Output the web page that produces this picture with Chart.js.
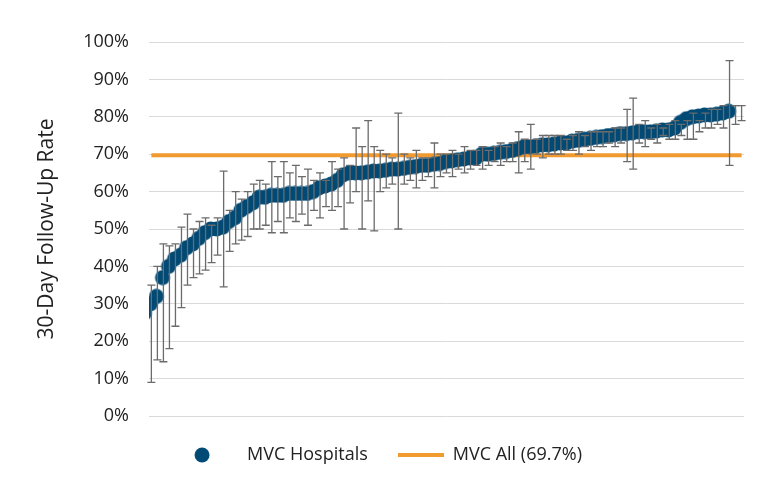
<!DOCTYPE html>
<html>
<head>
<meta charset="utf-8">
<script src="https://cdn.jsdelivr.net/npm/chart.js@4"></script>
<style>
  body { margin: 0; background: #fff; }
  #wrap { width: 768px; height: 488px; }
</style>
</head>
<body>
<div id="wrap"><canvas id="chart"></canvas></div>
<script>
// hospital rates (%), sorted
const rates = [22, 27.5, 30, 32, 37, 40, 42, 43, 45, 46, 47.5, 49, 50, 50, 50.5, 52, 53, 55, 56, 57,
  58.5, 58.5, 59, 59, 59, 59.5, 59.5, 59.5, 59.5, 60, 61, 61.5, 62, 63, 64.5, 65, 65, 65, 65.2, 65.5,
  65.5, 65.7, 66, 66, 66.2, 66.5, 66.7, 67, 67, 67.3, 67.5, 68, 68.2, 68.5, 68.7, 69, 69, 70, 70, 70.2,
  70.5, 70.7, 71, 71.5, 72, 72, 72.2, 72.5, 72.5, 72.7, 73, 73, 73.5, 73.7, 74, 74.2, 74.5, 74.7, 75, 75.2,
  75.5, 75.5, 75.7, 76, 76, 76, 76.2, 76.5, 76.5, 77, 78.5, 79.5, 80, 80.2, 80.5, 80.5, 80.7, 81, 81.5];
// error bar lower / upper bounds (%)
const errLow = [9, 15, 14.5, 18, 24, 29, 35, 37, 38, 39, 41, 43, 34.5, 44, 46, 47, 48, 50, 50, 51,
  49, 52, 49, 53, 52, 54, 51, 55, 53, 56, 55, 56, 50, 57, 60, 50, 57.5, 49.5, 60, 61,
  62, 50, 62, 63, 61, 63, 64, 61, 64, 65, 64, 66, 65, 66, 67, 66, 67, 68, 67, 68,
  68, 65, 68, 66, 70, 69, 70, 70, 70, 71, 71, 70, 72, 71, 72, 72, 73, 72, 73, 68,
  66, 73, 72, 74, 73, 75, 74, 74, 75, 74, 74, 76, 77, 77, 78, 77, 67, 78, 79, 76];
const errHigh = [35, 40, 46, 45.5, 46, 50.5, 54, 50, 52, 53, 51, 53, 65.5, 55, 60, 58, 60, 62, 63, 62,
  68, 64, 68, 65, 67, 64, 66, 63, 65, 63, 68, 66, 69, 67, 77, 72, 79, 72, 71, 70,
  69, 81, 70, 69, 71, 69, 69, 73, 70, 70, 71, 70, 72, 71, 71, 72, 71, 72, 73, 72,
  73, 76, 74, 78, 74, 75, 75, 75, 75, 74, 75, 76, 75, 76, 76, 76, 76, 77, 77, 82,
  85, 78, 79, 77, 78, 77, 78, 79, 78, 79, 81, 79, 81, 82, 82, 83, 95, 83, 83, 86.5];
const overall = 69.7;
const yTicks = [0, 10, 20, 30, 40, 50, 60, 70, 80, 90, 100];

const navy = "#004a76";
const orange = "#f09a30";

function icon(draw) {
  const c = document.createElement("canvas");
  c.width = 46; c.height = 16;
  draw(c.getContext("2d"));
  return c;
}
const dotIcon = icon(g => { g.fillStyle = navy; g.beginPath(); g.arc(10, 8, 7.5, 0, Math.PI * 2); g.fill(); });
const lineIcon = icon(g => { g.fillStyle = orange; g.fillRect(0, 6, 46, 4); });

const errorBars = {
  id: "errorBars",
  afterDatasetsDraw(chart) {
    const { ctx, scales: { x, y } } = chart;
    ctx.save();
    ctx.strokeStyle = "#6b6b6b";
    ctx.lineWidth = 1.3;
    rates.forEach((v, i) => {
      const px = x.getPixelForValue(i);
      const y1 = y.getPixelForValue(errLow[i]);
      const y2 = y.getPixelForValue(errHigh[i]);
      ctx.beginPath();
      ctx.moveTo(px, y1); ctx.lineTo(px, y2);
      ctx.moveTo(px - 4, y1); ctx.lineTo(px + 4, y1);
      ctx.moveTo(px - 4, y2); ctx.lineTo(px + 4, y2);
      ctx.stroke();
    });
    ctx.restore();
  }
};

new Chart(document.getElementById("chart"), {
  type: "scatter",
  data: {
    datasets: [
      {
        label: "MVC Hospitals",
        data: rates.map((v, i) => ({ x: i, y: v })),
        backgroundColor: navy,
        borderColor: navy,
        pointRadius: 7.5,
        pointStyle: dotIcon,
        order: 1
      },
      {
        label: "MVC All (69.7%)",
        type: "line",
        data: [{ x: 0, y: overall }, { x: rates.length - 1, y: overall }],
        borderColor: orange,
        backgroundColor: orange,
        borderWidth: 4,
        pointRadius: 0,
        pointStyle: lineIcon,
        order: 2
      }
    ]
  },
  options: {
    responsive: true,
    maintainAspectRatio: false,
    animation: false,
    layout: { padding: { left: 30, right: 24, top: 42, bottom: 14 } },
    elements: { point: { pointStyle: "circle" } },
    plugins: {
      legend: {
        position: "bottom",
        labels: {
          usePointStyle: true,
          pointStyleWidth: 46,
          boxHeight: 16,
          color: "#222",
          font: { family: "Open Sans", size: 18 },
          padding: 30
        }
      },
      tooltip: { enabled: false }
    },
    scales: {
      x: {
        type: "linear",
        min: -0.4,
        max: rates.length - 0.6,
        display: false
      },
      y: {
        min: 0,
        max: 100,
        afterBuildTicks: (ax) => { ax.ticks = yTicks.map(v => ({ value: v })); },
        ticks: {
          callback: v => v + "%",
          color: "#222",
          font: { family: "Open Sans", size: 18 },
          padding: 20
        },
        grid: { color: "#d9d9d9", drawTicks: false },
        border: { display: false },
        title: {
          display: true,
          text: "30-Day Follow-Up Rate",
          color: "#222",
          font: { family: "Open Sans", size: 21 }
        }
      }
    }
  },
  plugins: [errorBars]
});
</script>
</body>
</html>
